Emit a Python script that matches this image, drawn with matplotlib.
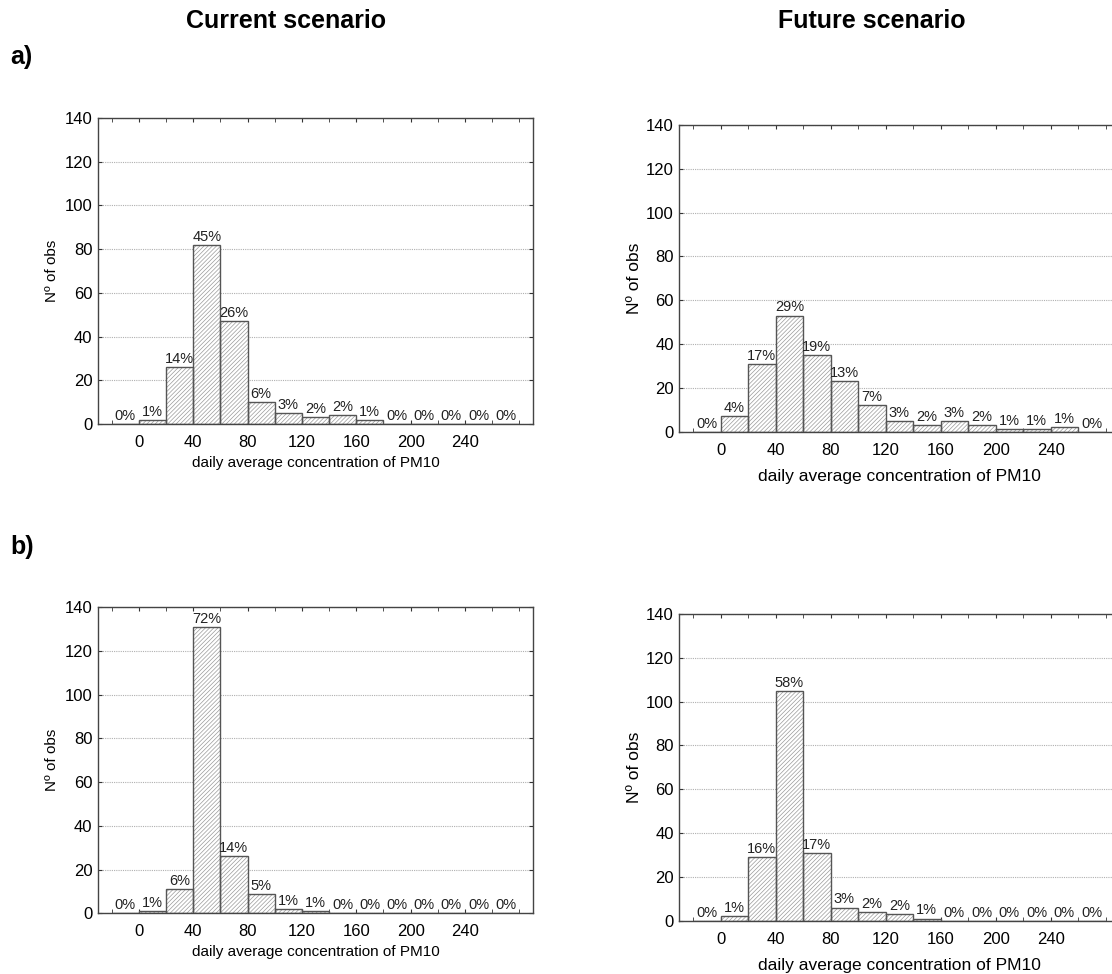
import numpy as np
import matplotlib
matplotlib.use("Agg")
import matplotlib.pyplot as plt

plt.rcParams["font.family"] = ["Liberation Sans", "DejaVu Sans"]
plt.rcParams["hatch.linewidth"] = 0.5

# histogram bins of width 20, from -20 to 280
bin_left = np.arange(-20, 280, 20)

counts_a_current = [0, 2, 26, 82, 47, 10, 5, 3, 4, 2, 0, 0, 0, 0, 0]
pct_a_current = [0, 1, 14, 45, 26, 6, 3, 2, 2, 1, 0, 0, 0, 0, 0]

counts_a_future = [0, 7, 31, 53, 35, 23, 12, 5, 3, 5, 3, 1, 1, 2, 0]
pct_a_future = [0, 4, 17, 29, 19, 13, 7, 3, 2, 3, 2, 1, 1, 1, 0]

counts_b_current = [0, 1, 11, 131, 26, 9, 2, 1, 0, 0, 0, 0, 0, 0, 0]
pct_b_current = [0, 1, 6, 72, 14, 5, 1, 1, 0, 0, 0, 0, 0, 0, 0]

counts_b_future = [0, 2, 29, 105, 31, 6, 4, 3, 1, 0, 0, 0, 0, 0, 0]
pct_b_future = [0, 1, 16, 58, 17, 3, 2, 2, 1, 0, 0, 0, 0, 0, 0]

x_labels = [0, 40, 80, 120, 160, 200, 240]
y_ticks = [0, 20, 40, 60, 80, 100, 120, 140]

EDGE = "#555555"


def draw_hist(ax, counts, pcts, label_size, xpad, ypad):
    # hatched fill first, then the dark outline on top
    ax.bar(bin_left, counts, width=20, align="edge", color="white",
           edgecolor="#9a9a9a", hatch="////////", linewidth=0, zorder=2)
    ax.bar(bin_left, counts, width=20, align="edge", color="none",
           edgecolor=EDGE, linewidth=1.0, zorder=3)
    for x, c, p in zip(bin_left, counts, pcts):
        ax.text(x + 10, c + 0.5, f"{p}%", ha="center", va="bottom",
                fontsize=10.5, color="#222222", zorder=4)

    ax.set_xlim(-30, 290)
    ax.set_ylim(0, 140)
    ax.set_xticks(x_labels)
    ax.set_xticks(np.arange(-20, 281, 20), minor=True)
    ax.set_yticks(y_ticks)
    ax.tick_params(axis="both", which="both", direction="in", top=True,
                   right=True, length=3, color="#333333", labelsize=12)
    ax.tick_params(axis="x", which="major", pad=8)
    ax.tick_params(axis="y", pad=4)
    ax.yaxis.grid(True, linestyle=(0, (1, 1)), color="#b0b0b0", linewidth=0.8)
    ax.set_axisbelow(True)
    for s in ax.spines.values():
        s.set_color("#444444")
        s.set_linewidth(1.0)
    ax.set_xlabel("daily average concentration of PM10", fontsize=label_size,
                  labelpad=xpad)
    ax.set_ylabel("Nº of obs", fontsize=label_size, labelpad=ypad)


fig = plt.figure(figsize=(11.12, 9.74), dpi=100)

ax1 = fig.add_axes([0.0881, 0.5647, 0.3912, 0.3142])
ax2 = fig.add_axes([0.6109, 0.5568, 0.3957, 0.3149])
ax3 = fig.add_axes([0.0881, 0.0623, 0.3912, 0.3142])
ax4 = fig.add_axes([0.6109, 0.0547, 0.3957, 0.3149])

draw_hist(ax1, counts_a_current, pct_a_current, 11, 4, 4)
draw_hist(ax2, counts_a_future, pct_a_future, 12.5, 8, 3)
draw_hist(ax3, counts_b_current, pct_b_current, 11, 4, 4)
draw_hist(ax4, counts_b_future, pct_b_future, 12.5, 8, 3)

fig.text(286 / 1112, 1 - 21 / 974, "Current scenario", ha="center", va="center",
         fontsize=18, fontweight="bold")
fig.text(872 / 1112, 1 - 21 / 974, "Future scenario", ha="center", va="center",
         fontsize=18, fontweight="bold")
fig.text(10 / 1112, 1 - 57 / 974, "a)", ha="left", va="center",
         fontsize=18, fontweight="bold")
fig.text(10 / 1112, 1 - 547 / 974, "b)", ha="left", va="center",
         fontsize=18, fontweight="bold")

fig.savefig("out.png", dpi=100)
